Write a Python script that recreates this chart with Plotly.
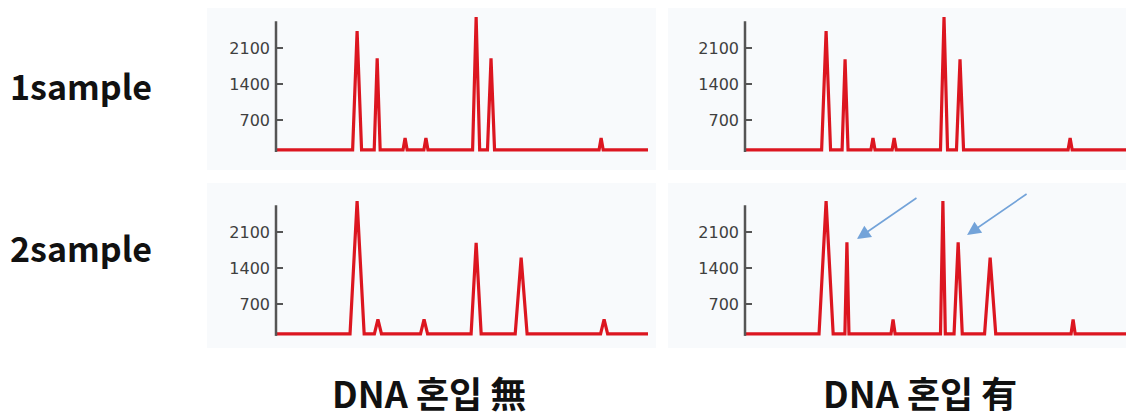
import plotly.graph_objects as go

# Electropherogram-style peak data (peak centre, height in RFU, base width)
noise_floor = 120

s1_clean_pos = [21.8, 27.2, 34.7, 40.3, 53.8, 57.8, 87.4]
s1_clean_height = [2430, 1900, 350, 350, 2700, 1900, 350]
s1_clean_width = [2.4, 1.6, 1.1, 1.1, 1.9, 1.9, 1.1]

s1_mixed_pos = [21.8, 26.9, 34.4, 40.1, 53.5, 57.8, 87.4]
s1_mixed_height = [2430, 1880, 350, 350, 2700, 1880, 350]
s1_mixed_width = [2.4, 1.6, 1.1, 1.1, 1.9, 1.9, 1.1]

s2_clean_pos = [21.8, 27.4, 39.8, 53.8, 65.9, 88.2]
s2_clean_height = [2700, 400, 400, 1890, 1600, 400]
s2_clean_width = [3.8, 1.9, 1.9, 2.7, 3.2, 1.9]

s2_mixed_pos = [21.8, 27.4, 39.8, 53.2, 57.3, 65.9, 88.2]
s2_mixed_height = [2700, 1900, 400, 2700, 1900, 1600, 400]
s2_mixed_width = [3.8, 1.1, 1.1, 1.3, 2.2, 3.0, 1.1]

row_labels = ["1sample", "2sample"]
col_labels = ["DNA 혼입 無", "DNA 혼입 有"]
y_ticks = [700, 1400, 2100]

W, H = 1126, 419
RED = "#dc1620"
AXIS = "#555555"


def trace_xy(pos, height, width, x_end):
    xs, ys = [0], [noise_floor]
    for c, h, w in zip(pos, height, width):
        xs += [c - w / 2, c, c + w / 2]
        ys += [noise_floor, h, noise_floor]
    xs.append(x_end)
    ys.append(noise_floor)
    return xs, ys


def px_x(p):
    return p / W


def px_y(p):
    return 1 - p / H


left_px, right_px = 276, 745
left_dom = [px_x(left_px), px_x(648)]
right_dom = [px_x(right_px), 1.0]
top_dom = [px_y(156), px_y(6.86)]
bot_dom = [px_y(340), px_y(190.86)]
x_left_max = 100
x_right_max = (W - right_px) / 3.72
y_max = 2900

panels = [
    (s1_clean_pos, s1_clean_height, s1_clean_width, "x", "y", x_left_max, left_px),
    (s1_mixed_pos, s1_mixed_height, s1_mixed_width, "x2", "y2", x_right_max, right_px),
    (s2_clean_pos, s2_clean_height, s2_clean_width, "x3", "y3", x_left_max, left_px),
    (s2_mixed_pos, s2_mixed_height, s2_mixed_width, "x4", "y4", x_right_max, right_px),
]

fig = go.Figure()
shapes = []

# faint panel backgrounds
for x0, x1, y0, y1 in [(207, 656, 8, 170), (668, 1126, 8, 170),
                       (207, 656, 183, 348), (668, 1126, 183, 348)]:
    shapes.append(dict(type="rect", xref="paper", yref="paper",
                       x0=px_x(x0), x1=px_x(x1), y0=px_y(y1), y1=px_y(y0),
                       fillcolor="#f8fafc", line=dict(width=0), layer="below"))

for pos, hgt, wid, xa, ya, xmax, ax_px in panels:
    xs, ys = trace_xy(pos, hgt, wid, xmax + 3)
    fig.add_trace(go.Scatter(x=xs, y=ys, xaxis=xa, yaxis=ya, mode="lines",
                             line=dict(color=RED, width=3.2),
                             hoverinfo="skip", showlegend=False))
    # vertical axis line
    shapes.append(dict(type="line", xref="paper", yref=ya,
                       x0=px_x(ax_px), x1=px_x(ax_px),
                       y0=noise_floor - 40, y1=2620,
                       line=dict(color=AXIS, width=2.5)))

axis_common = dict(showgrid=False, zeroline=False, showline=False)
tick_font = dict(family="DejaVu Sans", size=16, color="#3f3f3f")
yaxis_common = dict(axis_common, range=[0, y_max], tickvals=y_ticks,
                    ticks="inside", ticklen=7, tickwidth=2, tickcolor=AXIS,
                    tickfont=tick_font, ticklabelstandoff=5, fixedrange=True)
xaxis_common = dict(axis_common, visible=False, fixedrange=True)

fig.update_layout(
    width=W, height=H,
    margin=dict(l=0, r=0, t=0, b=0),
    paper_bgcolor="white",
    plot_bgcolor="rgba(0,0,0,0)",
    xaxis=dict(xaxis_common, domain=left_dom, range=[0, x_left_max], anchor="y"),
    xaxis2=dict(xaxis_common, domain=right_dom, range=[0, x_right_max], anchor="y2"),
    xaxis3=dict(xaxis_common, domain=left_dom, range=[0, x_left_max], anchor="y3"),
    xaxis4=dict(xaxis_common, domain=right_dom, range=[0, x_right_max], anchor="y4"),
    yaxis=dict(yaxis_common, domain=top_dom, anchor="x"),
    yaxis2=dict(yaxis_common, domain=top_dom, anchor="x2"),
    yaxis3=dict(yaxis_common, domain=bot_dom, anchor="x3"),
    yaxis4=dict(yaxis_common, domain=bot_dom, anchor="x4"),
    shapes=shapes,
)

row_font = dict(family="Noto Sans CJK KR", size=34, color="#111111", weight="bold")
col_font = dict(family="Noto Sans CJK KR", size=36, color="#111111", weight="bold")
annotations = []
for text, yc in zip(row_labels, [85, 248]):
    annotations.append(dict(text=text, xref="paper", yref="paper",
                            x=px_x(8), y=px_y(yc), xanchor="left", yanchor="middle",
                            showarrow=False, font=row_font))
for text, xc in zip(col_labels, [429, 920]):
    annotations.append(dict(text=text, xref="paper", yref="paper",
                            x=px_x(xc), y=px_y(392), xanchor="center", yanchor="middle",
                            showarrow=False, font=col_font))

# arrows marking the extra (mixed-in) peaks
for ax_x, ax_y in [(30.1, 1964), (59.7, 2042)]:
    annotations.append(dict(text="", xref="x4", yref="y4", x=ax_x, y=ax_y,
                            ax=61, ay=-42, showarrow=True, arrowhead=2,
                            arrowsize=1.7, arrowwidth=1.6, arrowcolor="#73a3d9",
                            standoff=0))
fig.update_layout(annotations=annotations)

fig.write_html("out.html")
